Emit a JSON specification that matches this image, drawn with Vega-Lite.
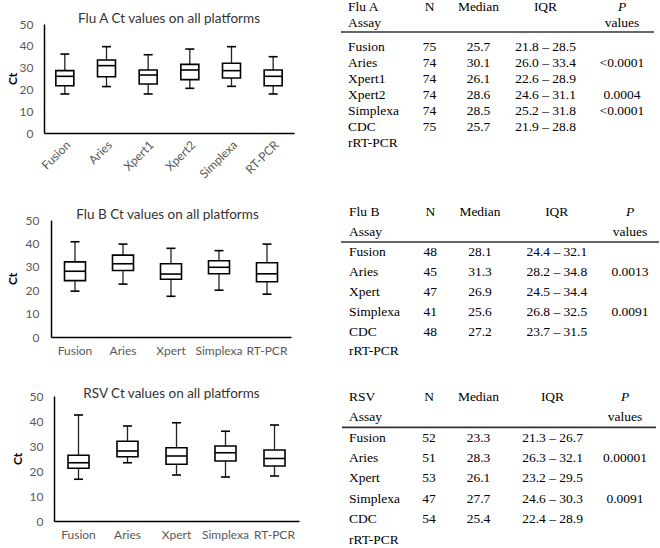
{
"$schema": "https://vega.github.io/schema/vega-lite/v6.json",
"padding": {"left": 6, "top": 0, "right": 0, "bottom": 0},
"spacing": 20,
"config": {
  "view": {"stroke": null},
  "axis": {"grid": false, "ticks": false, "labelOverlap": false, "domainColor": "#000", "domainWidth": 1.5, "labelColor": "#595959", "labelFont": "Lato", "labelFontSize": 12, "titleFont": "Lato", "titleFontSize": 12, "titleColor": "#000", "titleFontWeight": "bold"},
  "title": {"font": "Lato", "fontSize": 13.5, "fontWeight": "normal", "color": "#333", "anchor": "middle"},
  "style": {"tbl": {"font": "Liberation Serif", "fontSize": 13.5, "fill": "#1a1a1a", "baseline": "alphabetic"}}
},
"datasets": {
  "fluA": [
    {"platform": "Fusion", "min": 17.9, "q1": 21.7, "median": 26.0, "q3": 28.6, "max": 36.2},
    {"platform": "Aries", "min": 21.3, "q1": 25.8, "median": 30.9, "q3": 33.5, "max": 39.6},
    {"platform": "Xpert1", "min": 17.9, "q1": 22.5, "median": 26.6, "q3": 28.9, "max": 35.9},
    {"platform": "Xpert2", "min": 20.5, "q1": 24.5, "median": 28.9, "q3": 31.5, "max": 38.5},
    {"platform": "Simplexa", "min": 21.4, "q1": 25.2, "median": 28.6, "q3": 32.0, "max": 39.6},
    {"platform": "RT-PCR", "min": 17.9, "q1": 21.7, "median": 26.0, "q3": 28.9, "max": 35.0}
  ],
  "fluB": [
    {"platform": "Fusion", "min": 19.6, "q1": 24.1, "median": 28.1, "q3": 32.1, "max": 40.7},
    {"platform": "Aries", "min": 22.6, "q1": 28.4, "median": 31.3, "q3": 35.0, "max": 39.7},
    {"platform": "Xpert", "min": 17.4, "q1": 24.7, "median": 26.9, "q3": 31.3, "max": 37.9},
    {"platform": "Simplexa", "min": 20.0, "q1": 27.0, "median": 29.8, "q3": 32.6, "max": 36.9},
    {"platform": "RT-PCR", "min": 18.3, "q1": 23.6, "median": 27.0, "q3": 31.7, "max": 39.7}
  ],
  "rsv": [
    {"platform": "Fusion", "min": 16.7, "q1": 21.1, "median": 23.3, "q3": 26.3, "max": 42.4},
    {"platform": "Aries", "min": 23.3, "q1": 25.7, "median": 28.0, "q3": 31.9, "max": 38.0},
    {"platform": "Xpert", "min": 18.4, "q1": 22.7, "median": 26.0, "q3": 29.3, "max": 39.3},
    {"platform": "Simplexa", "min": 17.6, "q1": 24.0, "median": 27.3, "q3": 30.0, "max": 35.9},
    {"platform": "RT-PCR", "min": 18.0, "q1": 22.0, "median": 25.0, "q3": 28.4, "max": 38.4}
  ],
  "tabA": [
    {"row": "h1", "part": "head", "Assay": "Flu A", "N": "N", "Median": "Median", "IQR": "IQR", "P": "P"},
    {"row": "h2", "part": "head", "Assay": "Assay", "N": "", "Median": "", "IQR": "", "P": "values"},
    {"row": "Fusion", "part": "body", "Assay": "Fusion", "N": "75", "Median": "25.7", "IQR": "21.8 – 28.5", "P": ""},
    {"row": "Aries", "part": "body", "Assay": "Aries", "N": "74", "Median": "30.1", "IQR": "26.0 – 33.4", "P": "<0.0001"},
    {"row": "Xpert1", "part": "body", "Assay": "Xpert1", "N": "74", "Median": "26.1", "IQR": "22.6 – 28.9", "P": ""},
    {"row": "Xpert2", "part": "body", "Assay": "Xpert2", "N": "74", "Median": "28.6", "IQR": "24.6 – 31.1", "P": "0.0004"},
    {"row": "Simplexa", "part": "body", "Assay": "Simplexa", "N": "74", "Median": "28.5", "IQR": "25.2 – 31.8", "P": "<0.0001"},
    {"row": "CDC", "part": "body", "Assay": ["CDC", "rRT-PCR"], "N": "75", "Median": "25.7", "IQR": "21.9 – 28.8", "P": ""}
  ],
  "tabB": [
    {"row": "h1", "part": "head", "Assay": "Flu B", "N": "N", "Median": "Median", "IQR": "IQR", "P": "P"},
    {"row": "h2", "part": "head", "Assay": "Assay", "N": "", "Median": "", "IQR": "", "P": "values"},
    {"row": "Fusion", "part": "body", "Assay": "Fusion", "N": "48", "Median": "28.1", "IQR": "24.4 – 32.1", "P": ""},
    {"row": "Aries", "part": "body", "Assay": "Aries", "N": "45", "Median": "31.3", "IQR": "28.2 – 34.8", "P": "0.0013"},
    {"row": "Xpert", "part": "body", "Assay": "Xpert", "N": "47", "Median": "26.9", "IQR": "24.5 – 34.4", "P": ""},
    {"row": "Simplexa", "part": "body", "Assay": "Simplexa", "N": "41", "Median": "25.6", "IQR": "26.8 – 32.5", "P": "0.0091"},
    {"row": "CDC", "part": "body", "Assay": ["CDC", "rRT-PCR"], "N": "48", "Median": "27.2", "IQR": "23.7 – 31.5", "P": ""}
  ],
  "tabR": [
    {"row": "h1", "part": "head", "Assay": "RSV", "N": "N", "Median": "Median", "IQR": "IQR", "P": "P"},
    {"row": "h2", "part": "head", "Assay": "Assay", "N": "", "Median": "", "IQR": "", "P": "values"},
    {"row": "Fusion", "part": "body", "Assay": "Fusion", "N": "52", "Median": "23.3", "IQR": "21.3 – 26.7", "P": ""},
    {"row": "Aries", "part": "body", "Assay": "Aries", "N": "51", "Median": "28.3", "IQR": "26.3 – 32.1", "P": "0.00001"},
    {"row": "Xpert", "part": "body", "Assay": "Xpert", "N": "53", "Median": "26.1", "IQR": "23.2 – 29.5", "P": ""},
    {"row": "Simplexa", "part": "body", "Assay": "Simplexa", "N": "47", "Median": "27.7", "IQR": "24.6 – 30.3", "P": "0.0091"},
    {"row": "CDC", "part": "body", "Assay": ["CDC", "rRT-PCR"], "N": "54", "Median": "25.4", "IQR": "22.4 – 28.9", "P": ""}
  ]
},
"hconcat": [
  {
    "spacing": 22,
    "vconcat": [
      {
        "width": 250, "height": 109,
        "title": {"text": ["", "Flu A Ct  values on all platforms"], "lineHeight": 11, "offset": -7},
        "data": {"name": "fluA"},
        "encoding": {"x": {"field": "platform", "type": "nominal", "sort": null, "scale": {"paddingInner": 0, "paddingOuter": 0}, "axis": {"title": null, "labelAngle": -45, "labelPadding": 6}}},
        "layer": [
          {"mark": {"type": "rule", "color": "#222", "strokeWidth": 1.3}, "encoding": {"y": {"field": "min", "type": "quantitative", "title": "Ct", "scale": {"domain": [0, 50]}, "axis": {"values": [0, 10, 20, 30, 40, 50], "labelOverlap": false, "labelPadding": 11, "titlePadding": 0}}, "y2": {"field": "max"}}},
          {"mark": {"type": "bar", "size": 18, "fill": "#fff", "stroke": "#000", "strokeWidth": 1.6}, "encoding": {"y": {"field": "q1", "type": "quantitative", "title": "Ct", "axis": {"values": [0, 10, 20, 30, 40, 50], "labelOverlap": false, "labelPadding": 11, "titlePadding": 0}}, "y2": {"field": "q3"}}},
          {"mark": {"type": "tick", "size": 18, "thickness": 1.6, "color": "#000", "opacity": 1}, "encoding": {"y": {"field": "median", "type": "quantitative", "title": "Ct", "axis": {"values": [0, 10, 20, 30, 40, 50], "labelOverlap": false, "labelPadding": 11, "titlePadding": 0}}}},
          {"mark": {"type": "tick", "size": 9, "thickness": 1.6, "color": "#000", "opacity": 1}, "encoding": {"y": {"field": "min", "type": "quantitative", "title": "Ct", "axis": {"values": [0, 10, 20, 30, 40, 50], "labelOverlap": false, "labelPadding": 11, "titlePadding": 0}}}},
          {"mark": {"type": "tick", "size": 9, "thickness": 1.6, "color": "#000", "opacity": 1}, "encoding": {"y": {"field": "max", "type": "quantitative", "title": "Ct", "axis": {"values": [0, 10, 20, 30, 40, 50], "labelOverlap": false, "labelPadding": 11, "titlePadding": 0}}}}
        ]
      },
      {
        "width": 247, "height": 117,
        "title": {"text": ["", "Flu B Ct values on all platforms"], "lineHeight": 5, "offset": -7},
        "data": {"name": "fluB"},
        "encoding": {"x": {"field": "platform", "type": "nominal", "sort": null, "scale": {"paddingInner": 0, "paddingOuter": 0, "range": [7, 247]}, "axis": {"title": null, "labelAngle": 0, "labelPadding": 8}}},
        "layer": [
          {"mark": {"type": "rule", "color": "#222", "strokeWidth": 1.3}, "encoding": {"y": {"field": "min", "type": "quantitative", "title": "Ct", "scale": {"domain": [0, 50]}, "axis": {"values": [0, 10, 20, 30, 40, 50], "labelOverlap": false, "offset": -7, "labelPadding": 12, "titlePadding": 6}}, "y2": {"field": "max"}}},
          {"mark": {"type": "bar", "size": 21, "fill": "#fff", "stroke": "#000", "strokeWidth": 1.6}, "encoding": {"y": {"field": "q1", "type": "quantitative", "title": "Ct", "axis": {"values": [0, 10, 20, 30, 40, 50], "labelOverlap": false, "offset": -7, "labelPadding": 12, "titlePadding": 6}}, "y2": {"field": "q3"}}},
          {"mark": {"type": "tick", "size": 21, "thickness": 1.6, "color": "#000", "opacity": 1}, "encoding": {"y": {"field": "median", "type": "quantitative", "title": "Ct", "axis": {"values": [0, 10, 20, 30, 40, 50], "labelOverlap": false, "offset": -7, "labelPadding": 12, "titlePadding": 6}}}},
          {"mark": {"type": "tick", "size": 9, "thickness": 1.6, "color": "#000", "opacity": 1}, "encoding": {"y": {"field": "min", "type": "quantitative", "title": "Ct", "axis": {"values": [0, 10, 20, 30, 40, 50], "labelOverlap": false, "offset": -7, "labelPadding": 12, "titlePadding": 6}}}},
          {"mark": {"type": "tick", "size": 9, "thickness": 1.6, "color": "#000", "opacity": 1}, "encoding": {"y": {"field": "max", "type": "quantitative", "title": "Ct", "axis": {"values": [0, 10, 20, 30, 40, 50], "labelOverlap": false, "offset": -7, "labelPadding": 12, "titlePadding": 6}}}}
        ]
      },
      {
        "width": 255, "height": 125,
        "title": {"text": ["", "RSV Ct values on all platforms"], "lineHeight": 8, "offset": -10},
        "data": {"name": "rsv"},
        "encoding": {"x": {"field": "platform", "type": "nominal", "sort": null, "scale": {"paddingInner": 0, "paddingOuter": 0, "range": [10, 255]}, "axis": {"title": null, "labelAngle": 0, "labelPadding": 8}}},
        "layer": [
          {"mark": {"type": "rule", "color": "#222", "strokeWidth": 1.3}, "encoding": {"y": {"field": "min", "type": "quantitative", "title": "Ct", "scale": {"domain": [0, 50]}, "axis": {"values": [0, 10, 20, 30, 40, 50], "labelOverlap": false, "offset": -10, "labelPadding": 11, "titlePadding": 4.5}}, "y2": {"field": "max"}}},
          {"mark": {"type": "bar", "size": 21, "fill": "#fff", "stroke": "#000", "strokeWidth": 1.6}, "encoding": {"y": {"field": "q1", "type": "quantitative", "title": "Ct", "axis": {"values": [0, 10, 20, 30, 40, 50], "labelOverlap": false, "offset": -10, "labelPadding": 11, "titlePadding": 4.5}}, "y2": {"field": "q3"}}},
          {"mark": {"type": "tick", "size": 21, "thickness": 1.6, "color": "#000", "opacity": 1}, "encoding": {"y": {"field": "median", "type": "quantitative", "title": "Ct", "axis": {"values": [0, 10, 20, 30, 40, 50], "labelOverlap": false, "offset": -10, "labelPadding": 11, "titlePadding": 4.5}}}},
          {"mark": {"type": "tick", "size": 9, "thickness": 1.6, "color": "#000", "opacity": 1}, "encoding": {"y": {"field": "min", "type": "quantitative", "title": "Ct", "axis": {"values": [0, 10, 20, 30, 40, 50], "labelOverlap": false, "offset": -10, "labelPadding": 11, "titlePadding": 4.5}}}},
          {"mark": {"type": "tick", "size": 9, "thickness": 1.6, "color": "#000", "opacity": 1}, "encoding": {"y": {"field": "max", "type": "quantitative", "title": "Ct", "axis": {"values": [0, 10, 20, 30, 40, 50], "labelOverlap": false, "offset": -10, "labelPadding": 11, "titlePadding": 4.5}}}}
        ]
      }
    ]
  },
  {
    "spacing": 0,
    "vconcat": [
      {
        "width": 340, "height": 165,
        "data": {"name": "tabA"},
        "encoding": {"y": {"field": "row", "type": "nominal", "scale": {"type": "point", "domain": ["h1", "h2", "Fusion", "Aries", "Xpert1", "Xpert2", "Simplexa", "CDC"], "range": [-5, 107], "padding": 0}, "axis": null}},
        "layer": [
          {"data": {"values": [{}]}, "mark": {"type": "rule", "color": "#333", "strokeWidth": 1.6, "xOffset": -7, "x2Offset": 32, "yOffset": -3},
           "encoding": {"x": {"datum": "Assay", "type": "nominal", "scale": {"type": "point", "domain": ["Assay", "N", "Median", "IQR", "P"], "range": [29, 303], "padding": 0}, "axis": null}, "x2": {"datum": "P"}, "y": {"datum": "h2", "type": "nominal"}}},
          {"transform": [{"filter": "datum.part === 'head'"}], "mark": {"type": "text", "style": "tbl", "align": "left", "dy": -8}, "encoding": {"x": {"datum": "Assay", "type": "nominal"}, "text": {"field": "Assay"}}},
          {"transform": [{"filter": "datum.part === 'body'"}], "mark": {"type": "text", "style": "tbl", "align": "left", "lineHeight": 16}, "encoding": {"x": {"datum": "Assay", "type": "nominal"}, "text": {"field": "Assay"}}},
          {"transform": [{"filter": "datum.row === 'h1'"}], "mark": {"type": "text", "style": "tbl", "dx": 13, "dy": -8}, "encoding": {"x": {"datum": "N", "type": "nominal"}, "text": {"field": "N"}}},
          {"transform": [{"filter": "datum.part === 'body'"}], "mark": {"type": "text", "style": "tbl", "dx": 13}, "encoding": {"x": {"datum": "N", "type": "nominal"}, "text": {"field": "N"}}},
          {"transform": [{"filter": "datum.row === 'h1'"}], "mark": {"type": "text", "style": "tbl", "dx": -6.5, "dy": -8}, "encoding": {"x": {"datum": "Median", "type": "nominal"}, "text": {"field": "Median"}}},
          {"transform": [{"filter": "datum.part === 'body'"}], "mark": {"type": "text", "style": "tbl", "dx": -6.5}, "encoding": {"x": {"datum": "Median", "type": "nominal"}, "text": {"field": "Median"}}},
          {"transform": [{"filter": "datum.row === 'h1'"}], "mark": {"type": "text", "style": "tbl", "dx": -8, "dy": -8}, "encoding": {"x": {"datum": "IQR", "type": "nominal"}, "text": {"field": "IQR"}}},
          {"transform": [{"filter": "datum.part === 'body'"}], "mark": {"type": "text", "style": "tbl", "dx": -8}, "encoding": {"x": {"datum": "IQR", "type": "nominal"}, "text": {"field": "IQR"}}},
          {"transform": [{"filter": "datum.row === 'h1'"}], "mark": {"type": "text", "style": "tbl", "dy": -8, "fontStyle": "italic"}, "encoding": {"x": {"datum": "P", "type": "nominal"}, "text": {"field": "P"}}},
          {"transform": [{"filter": "datum.row === 'h2'"}], "mark": {"type": "text", "style": "tbl", "dy": -8}, "encoding": {"x": {"datum": "P", "type": "nominal"}, "text": {"field": "P"}}},
          {"transform": [{"filter": "datum.part === 'body'"}], "mark": {"type": "text", "style": "tbl"}, "encoding": {"x": {"datum": "P", "type": "nominal"}, "text": {"field": "P"}}}
        ]
      },
      {
        "width": 340, "height": 182,
        "data": {"name": "tabB"},
        "encoding": {"y": {"field": "row", "type": "nominal", "scale": {"type": "point", "domain": ["h1", "h2", "Fusion", "Aries", "Xpert", "Simplexa", "CDC"], "range": [27, 147], "padding": 0}, "axis": null}},
        "layer": [
          {"data": {"values": [{}]}, "mark": {"type": "rule", "color": "#333", "strokeWidth": 1.6, "xOffset": -8, "x2Offset": 29, "yOffset": 6},
           "encoding": {"x": {"datum": "Assay", "type": "nominal", "scale": {"type": "point", "domain": ["Assay", "N", "Median", "IQR", "P"], "range": [30, 311], "padding": 0}, "axis": null}, "x2": {"datum": "P"}, "y": {"datum": "h2", "type": "nominal"}}},
          {"mark": {"type": "text", "style": "tbl", "align": "left", "lineHeight": 19}, "encoding": {"x": {"datum": "Assay", "type": "nominal"}, "text": {"field": "Assay"}}},
          {"mark": {"type": "text", "style": "tbl", "dx": 11}, "encoding": {"x": {"datum": "N", "type": "nominal"}, "text": {"field": "N"}}},
          {"mark": {"type": "text", "style": "tbl", "dx": -9.5}, "encoding": {"x": {"datum": "Median", "type": "nominal"}, "text": {"field": "Median"}}},
          {"mark": {"type": "text", "style": "tbl", "dx": -3}, "encoding": {"x": {"datum": "IQR", "type": "nominal"}, "text": {"field": "IQR"}}},
          {"transform": [{"filter": "datum.row === 'h1'"}], "mark": {"type": "text", "style": "tbl", "fontStyle": "italic"}, "encoding": {"x": {"datum": "P", "type": "nominal"}, "text": {"field": "P"}}},
          {"transform": [{"filter": "datum.row !== 'h1'"}], "mark": {"type": "text", "style": "tbl"}, "encoding": {"x": {"datum": "P", "type": "nominal"}, "text": {"field": "P"}}}
        ]
      },
      {
        "width": 340, "height": 176,
        "data": {"name": "tabR"},
        "encoding": {"y": {"field": "row", "type": "nominal", "scale": {"type": "point", "domain": ["h1", "h2", "Fusion", "Aries", "Xpert", "Simplexa", "CDC"], "range": [30, 152], "padding": 0}, "axis": null}},
        "layer": [
          {"data": {"values": [{}]}, "mark": {"type": "rule", "color": "#333", "strokeWidth": 1.6, "xOffset": -7, "x2Offset": 31, "yOffset": 6},
           "encoding": {"x": {"datum": "Assay", "type": "nominal", "scale": {"type": "point", "domain": ["Assay", "N", "Median", "IQR", "P"], "range": [30, 306], "padding": 0}, "axis": null}, "x2": {"datum": "P"}, "y": {"datum": "h2", "type": "nominal"}}},
          {"mark": {"type": "text", "style": "tbl", "align": "left", "lineHeight": 21}, "encoding": {"x": {"datum": "Assay", "type": "nominal"}, "text": {"field": "Assay"}}},
          {"mark": {"type": "text", "style": "tbl", "dx": 11}, "encoding": {"x": {"datum": "N", "type": "nominal"}, "text": {"field": "N"}}},
          {"mark": {"type": "text", "style": "tbl", "dx": -8.5}, "encoding": {"x": {"datum": "Median", "type": "nominal"}, "text": {"field": "Median"}}},
          {"mark": {"type": "text", "style": "tbl", "dx": -3.5}, "encoding": {"x": {"datum": "IQR", "type": "nominal"}, "text": {"field": "IQR"}}},
          {"transform": [{"filter": "datum.row === 'h1'"}], "mark": {"type": "text", "style": "tbl", "fontStyle": "italic"}, "encoding": {"x": {"datum": "P", "type": "nominal"}, "text": {"field": "P"}}},
          {"transform": [{"filter": "datum.row !== 'h1'"}], "mark": {"type": "text", "style": "tbl"}, "encoding": {"x": {"datum": "P", "type": "nominal"}, "text": {"field": "P"}}}
        ]
      }
    ]
  }
]
}
